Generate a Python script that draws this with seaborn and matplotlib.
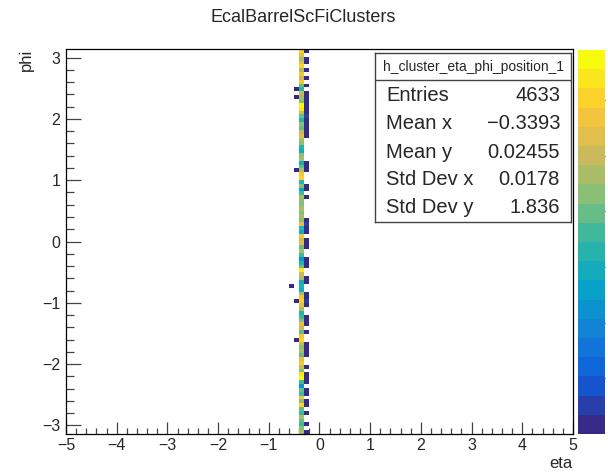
import numpy as np
import pandas as pd
import matplotlib.pyplot as plt
import matplotlib.colors as mcolors
import seaborn as sns

# histogram binning (100 x 100, eta in [-5,5], phi in [-pi,pi])
n_eta_bins = 100
n_phi_bins = 100
eta_range = (-5, 5)
phi_range = (-np.pi, np.pi)

# counts per phi bin (bin 0 = phi -pi) for the occupied eta columns
main_eta = -0.35
main_counts = [47, 43, 36, 40, 47, 36, 40, 60, 43, 57,
               36, 40, 22, 36, 67, 64, 43, 50, 57, 53,
               40, 47, 43, 50, 60, 57, 40, 50, 53, 43,
               36, 33, 47, 53, 60, 57, 47, 29, 33, 29,
               47, 50, 64, 40, 33, 22, 36, 47, 40, 53,
               50, 57, 29, 33, 53, 43, 47, 43, 47, 43,
               43, 47, 36, 26, 43, 33, 60, 57, 47, 40,
               29, 47, 43, 29, 33, 43, 47, 53, 50, 40,
               43, 33, 40, 50, 64, 67, 43, 47, 50, 33,
               40, 57, 50, 57, 47, 60, 53, 47, 53, 60]

right_eta = -0.25
right_bins = [0, 2, 5, 7, 8, 10, 11, 13, 14, 15, 17, 20, 21, 22, 23, 26, 28, 29, 30, 33,
              34, 35, 36, 39, 40, 43, 44, 45, 48, 49, 50, 52, 53, 54, 55, 61, 63, 64, 68, 69,
              70, 77, 78, 79, 80, 81, 82, 83, 84, 85, 86, 87, 88, 90, 92, 94, 96, 97, 99]
right_counts = [2, 1, 2, 3, 2, 2, 1, 2, 3, 2, 1, 2, 3, 2, 2, 1, 2, 2, 3, 2,
                4, 2, 1, 2, 3, 2, 2, 1, 2, 2, 3, 2, 2, 5, 2, 1, 2, 3, 2, 2,
                2, 1, 2, 3, 2, 2, 4, 2, 2, 3, 2, 1, 2, 2, 3, 2, 1, 2, 2]

left_eta = -0.45
left_bins = [24, 34, 68, 87, 89]
left_counts = [2, 2, 1, 2, 2]

far_left_eta = -0.55
far_left_bins = [38]
far_left_counts = [1]

stats_name = 'h_cluster_eta_phi_position_1'
stats_labels = ['Entries', 'Mean x', 'Mean y', 'Std Dev x', 'Std Dev y']
stats_values = ['4633', '\u22120.3393', '0.02455', '0.0178', '1.836']

z_max = 69
n_levels = 20

#%%
phi_edges = np.linspace(phi_range[0], phi_range[1], n_phi_bins + 1)
phi_centers = 0.5 * (phi_edges[1:] + phi_edges[:-1])
eta_edges = np.linspace(eta_range[0], eta_range[1], n_eta_bins + 1)

rows = []
for i, c in enumerate(main_counts):
    rows.append((main_eta, phi_centers[i], c))
for b, c in zip(right_bins, right_counts):
    rows.append((right_eta, phi_centers[b], c))
for b, c in zip(left_bins, left_counts):
    rows.append((left_eta, phi_centers[b], c))
for b, c in zip(far_left_bins, far_left_counts):
    rows.append((far_left_eta, phi_centers[b], c))
df = pd.DataFrame(rows, columns=['eta', 'phi', 'counts'])

# ROOT kBird palette, 20 contour levels
stops = [0.0, 0.125, 0.25, 0.375, 0.5, 0.625, 0.75, 0.875, 1.0]
red = [0.2082, 0.0592, 0.0780, 0.0232, 0.1802, 0.5301, 0.8186, 0.9956, 0.9764]
green = [0.1664, 0.3599, 0.5041, 0.6419, 0.7178, 0.7492, 0.7328, 0.7862, 0.9832]
blue = [0.5293, 0.8684, 0.8385, 0.7914, 0.6425, 0.4662, 0.3499, 0.1968, 0.0539]
bird = mcolors.LinearSegmentedColormap.from_list(
    'bird', [(s, (r, g, b)) for s, r, g, b in zip(stops, red, green, blue)])
cmap = mcolors.ListedColormap([bird(i / (n_levels - 1)) for i in range(n_levels)])

sns.set_style('ticks')
plt.rcParams['font.family'] = ['Liberation Sans', 'DejaVu Sans']

W, H = 608, 472
fig = plt.figure(figsize=(W / 100, H / 100), dpi=100)
ax = fig.add_axes([66 / W, 1 - 434 / H, (573 - 66) / W, (434 - 49) / H])
cax = fig.add_axes([578 / W, 1 - 434 / H, 27 / W, (434 - 50) / H])

sns.histplot(data=df, x='eta', y='phi', weights='counts',
             bins=[eta_edges, phi_edges], cmap=cmap, vmin=0, vmax=z_max,
             cbar=True, cbar_ax=cax, ax=ax)

ax.set_xlim(eta_range)
ax.set_ylim(phi_range)
ax.set_xticks(np.arange(-5, 6, 1))
ax.set_xticks(np.arange(-5, 5.01, 0.2), minor=True)
ax.set_yticks(np.arange(-3, 4, 1))
ax.set_yticks(np.arange(-3.0, 3.01, 0.2), minor=True)
for s in ax.spines.values():
    s.set_color('black')
    s.set_linewidth(0.9)
ax.tick_params(axis='x', which='major', direction='in', length=8.3, width=0.9,
               labelsize=11.5, pad=3, color='#444444')
ax.tick_params(axis='x', which='minor', direction='in', length=4.1, width=0.9, color='#444444')
ax.tick_params(axis='y', which='major', direction='in', length=10.8, width=0.9,
               labelsize=11.5, pad=4, color='#444444')
ax.tick_params(axis='y', which='minor', direction='in', length=5.4, width=0.9, color='#444444')
ax.set_xlabel('eta', loc='right', fontsize=12, labelpad=2)
ax.set_ylabel('phi', loc='top', fontsize=12, labelpad=6)

# palette axis (its labels fall outside the canvas in the original)
cbar = ax.collections[0].colorbar
cbar.outline.set_visible(False)
cax.set_yticks(np.arange(10, 70, 10))
cax.tick_params(direction='in', length=9.5, width=1, color='#444444', labelright=False)

fig.text(303 / W, 1 - 18 / H, 'EcalBarrelScFiClusters', ha='center', va='center', fontsize=13)

# stats box
sax = fig.add_axes([375 / W, 1 - 222 / H, 196 / W, 169 / H])
sax.set_xticks([])
sax.set_yticks([])
for s in sax.spines.values():
    s.set_color('#444444')
    s.set_linewidth(1)
sax.set_xlim(0, 1)
sax.set_ylim(0, 1)
sax.axhline(0.840, color='#444444', lw=1)
sax.text(0.5, 0.917, stats_name, ha='center', va='center', fontsize=10)
row_y = [0.746, 0.580, 0.414, 0.249, 0.083]
for yy, lab, val in zip(row_y, stats_labels, stats_values):
    sax.text(0.056, yy, lab, ha='left', va='center', fontsize=14.5)
    sax.text(0.944, yy, val, ha='right', va='center', fontsize=14.5)

plt.savefig('out.png', dpi=100)
